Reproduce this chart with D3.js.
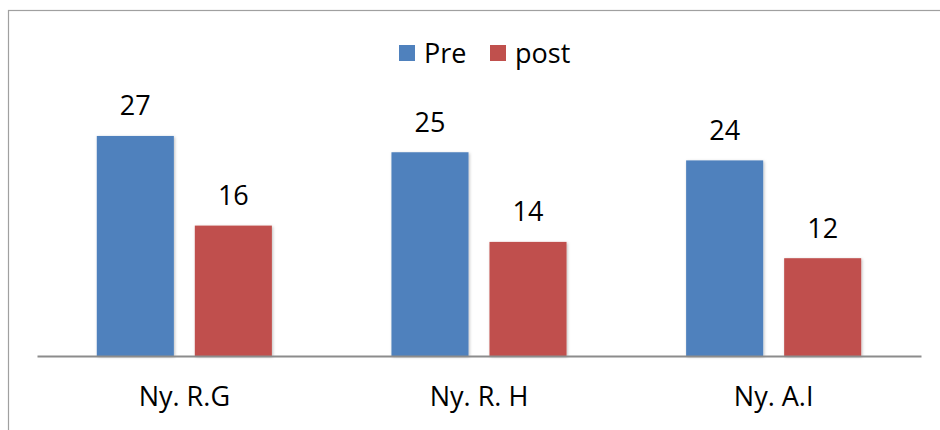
<!DOCTYPE html>
<html>
<head>
<meta charset="utf-8">
<title>Pre / post</title>
<script src="https://cdn.jsdelivr.net/npm/d3@7"></script>
<style>
  body { margin: 0; background: #fff; }
  text { font-family: "Open Sans", sans-serif; font-size: 27px; fill: #000; }
</style>
</head>
<body>
<script>
var categories = ["Ny. R.G", "Ny. R. H", "Ny. A.I"];
var series = ["Pre", "post"];
var preValues = [27, 25, 24];
var postValues = [16, 14, 12];
var colors = ["#4F81BD", "#C0504D"];

var width = 940, height = 430;
var baseY = 356;

var svg = d3.select("body").append("svg")
  .attr("width", width)
  .attr("height", height);

// soft shadow behind bars
var defs = svg.append("defs");
var f = defs.append("filter").attr("id", "shadow")
  .attr("x", "-10%").attr("y", "-10%").attr("width", "130%").attr("height", "130%");
f.append("feDropShadow")
  .attr("dx", 1).attr("dy", 1).attr("stdDeviation", 1.5)
  .attr("flood-color", "#000").attr("flood-opacity", 0.25);

// chart frame (runs off the right and bottom edge)
svg.append("rect")
  .attr("x", 8.5).attr("y", 10.5)
  .attr("width", 1000).attr("height", 1000)
  .attr("fill", "none")
  .attr("stroke", "#a0a0a0")
  .attr("stroke-width", 1.2);

var x0 = d3.scaleBand().domain(categories).range([37, 921]).padding(0);
var x1 = d3.scaleBand().domain(series).range([0, x0.bandwidth()])
  .paddingInner(0.214).paddingOuter(0.61);
var y = d3.scaleLinear().domain([0, 30]).range([baseY, 111.5]);

var rows = categories.map(function (c, i) {
  return { cat: c, vals: [preValues[i], postValues[i]] };
});

var groups = svg.selectAll("g.grp")
  .data(rows)
  .enter().append("g")
  .attr("class", "grp")
  .attr("transform", function (d) { return "translate(" + x0(d.cat) + ",0)"; });

groups.selectAll("rect")
  .data(function (d) { return d.vals.map(function (v, j) { return { s: series[j], v: v, j: j }; }); })
  .enter().append("rect")
  .attr("x", function (d) { return x1(d.s); })
  .attr("y", function (d) { return y(d.v); })
  .attr("width", x1.bandwidth())
  .attr("height", function (d) { return baseY - y(d.v); })
  .attr("fill", function (d) { return colors[d.j]; })
  .attr("filter", "url(#shadow)");

groups.selectAll("text.val")
  .data(function (d) { return d.vals.map(function (v, j) { return { s: series[j], v: v }; }); })
  .enter().append("text")
  .attr("class", "val")
  .attr("x", function (d) { return x1(d.s) + x1.bandwidth() / 2; })
  .attr("y", function (d) { return y(d.v) - 20.5; })
  .attr("text-anchor", "middle")
  .text(function (d) { return d.v; });

// category axis
var xAxis = d3.axisBottom(x0).tickSize(0).tickPadding(31);
var ax = svg.append("g")
  .attr("transform", "translate(0," + baseY + ")")
  .call(xAxis);
ax.select(".domain").attr("stroke", "#8c8c8c").attr("stroke-width", 2);
ax.selectAll("text")
  .attr("font-size", null)
  .attr("font-family", null)
  .attr("fill", "#000")
  .attr("dy", "0.71em")
  .style("font-size", "27px");

// legend
var legendX = [399, 490];
var legend = svg.selectAll("g.leg")
  .data(series)
  .enter().append("g")
  .attr("class", "leg")
  .attr("transform", function (d, i) { return "translate(" + legendX[i] + ",45)"; });
legend.append("rect")
  .attr("width", 16).attr("height", 16)
  .attr("fill", function (d, i) { return colors[i]; });
legend.append("text")
  .attr("x", 25).attr("y", 17.5)
  .text(function (d) { return d; });
</script>
</body>
</html>
